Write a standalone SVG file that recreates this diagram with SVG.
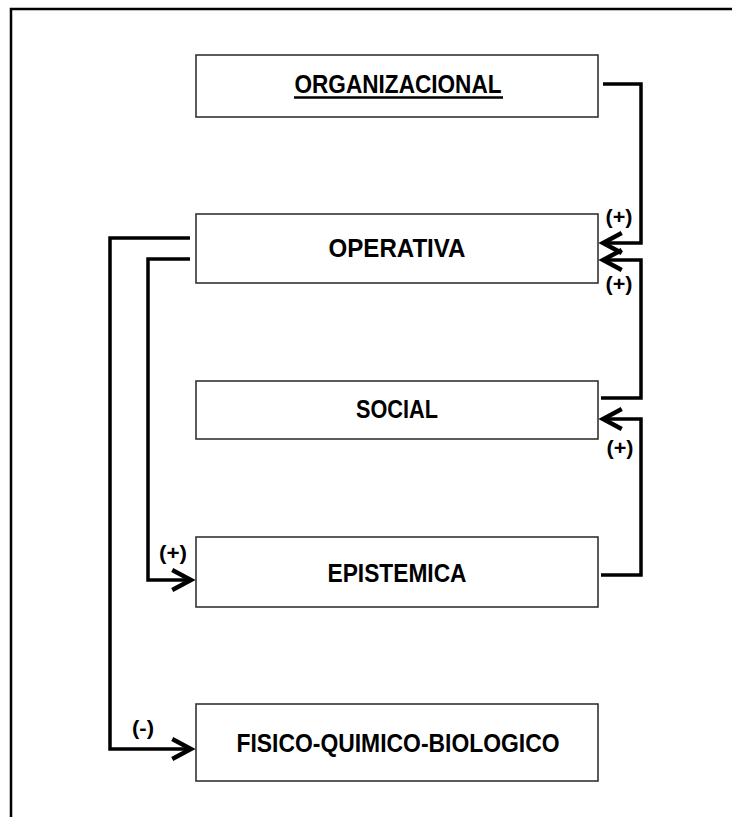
<svg xmlns="http://www.w3.org/2000/svg" width="732" height="817" viewBox="0 0 732 817">
<defs>
<marker id="arr" markerUnits="userSpaceOnUse" markerWidth="30" markerHeight="30" viewBox="-20 -12 24 24" refX="0" refY="0" orient="auto">
<path d="M -15 -8 L 0 0 L -15 8" fill="none" stroke="#000" stroke-width="3.5" stroke-linejoin="miter"/>
</marker>
<style>
.box{fill:#fff;stroke:#333;stroke-width:1.6}
.lbl{font-family:"Liberation Sans",Arial,sans-serif;font-weight:bold;font-size:25px;fill:#000;text-anchor:middle}
.conn{fill:none;stroke:#000;stroke-width:3.5;stroke-linejoin:miter}
.sign{font-family:"Liberation Sans",Arial,sans-serif;font-weight:bold;font-size:20px;fill:#000;text-anchor:middle}
</style>
</defs>
<rect x="0" y="0" width="732" height="817" fill="#fff"/>
<path d="M 11 817 V 9 H 733" fill="none" stroke="#000" stroke-width="2.5"/>
<g id="organizacional">
<rect class="box" x="196" y="55" width="402" height="62"/>
<text class="lbl" x="398" y="93" textLength="207" lengthAdjust="spacingAndGlyphs">ORGANIZACIONAL</text>
<line x1="294" y1="97.5" x2="503" y2="97.5" stroke="#000" stroke-width="2.5"/>
</g>
<g id="operativa">
<rect class="box" x="196" y="214" width="402" height="69"/>
<text class="lbl" x="397" y="257" textLength="137" lengthAdjust="spacingAndGlyphs">OPERATIVA</text>
</g>
<g id="social">
<rect class="box" x="196" y="381" width="402" height="58"/>
<text class="lbl" x="397" y="418" textLength="82" lengthAdjust="spacingAndGlyphs">SOCIAL</text>
</g>
<g id="epistemica">
<rect class="box" x="196" y="537" width="402" height="70"/>
<text class="lbl" x="397" y="582" textLength="139" lengthAdjust="spacingAndGlyphs">EPISTEMICA</text>
</g>
<g id="fisico">
<rect class="box" x="196" y="704" width="402" height="77"/>
<text class="lbl" x="398" y="752" textLength="323" lengthAdjust="spacingAndGlyphs">FISICO-QUIMICO-BIOLOGICO</text>
</g>
<g id="connectors">
<path class="conn" d="M 603 84 H 641 V 243 H 603" marker-end="url(#arr)"/>
<path class="conn" d="M 601 398 H 641 V 260 H 603" marker-end="url(#arr)"/>
<path class="conn" d="M 601 575 H 641 V 419 H 603" marker-end="url(#arr)"/>
<path class="conn" d="M 190 259 H 148 V 580 H 191" marker-end="url(#arr)"/>
<path class="conn" d="M 190 238 H 110 V 749 H 191" marker-end="url(#arr)"/>
<text class="sign" x="619" y="224" textLength="27" lengthAdjust="spacingAndGlyphs">(+)</text>
<text class="sign" x="619" y="291" textLength="27" lengthAdjust="spacingAndGlyphs">(+)</text>
<text class="sign" x="620" y="455" textLength="27" lengthAdjust="spacingAndGlyphs">(+)</text>
<text class="sign" x="173" y="560" textLength="28" lengthAdjust="spacingAndGlyphs">(+)</text>
<text class="sign" x="143" y="735" textLength="22" lengthAdjust="spacingAndGlyphs">(-)</text>
</g>
</svg>
